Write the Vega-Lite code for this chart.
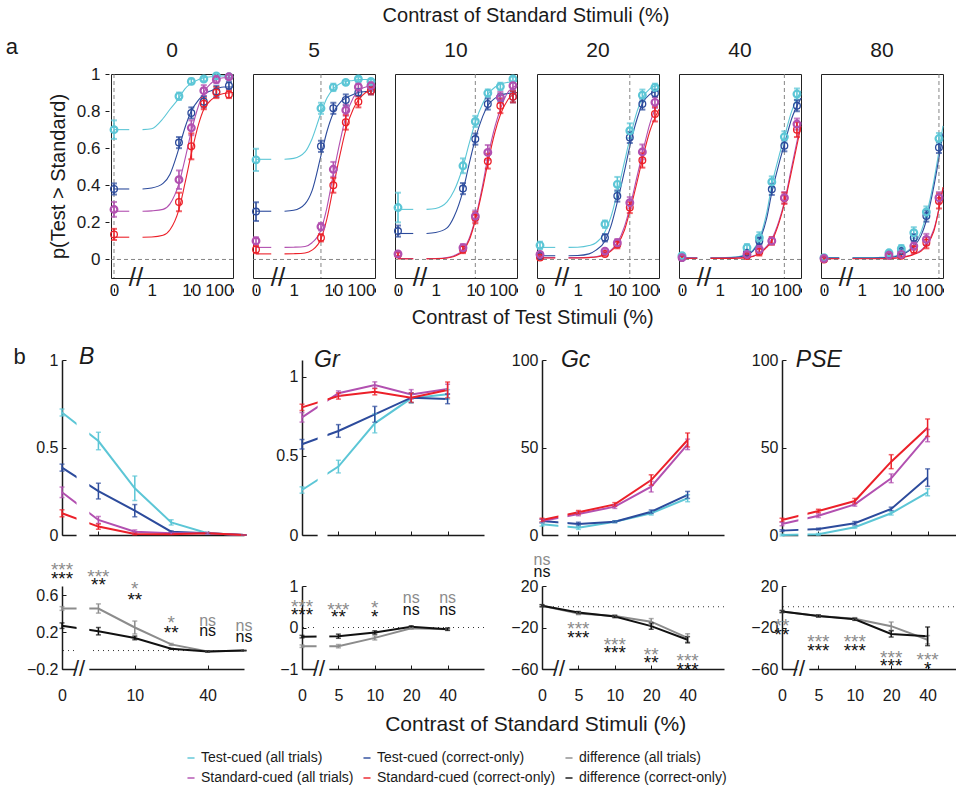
{
"$schema":"https://vega.github.io/schema/vega-lite/v6.json",
"padding":{"left":5,"top":6,"right":0,"bottom":0},
"config":{
 "font":"Liberation Sans",
 "view":{"stroke":null},
 "axis":{"grid":false,"labelOverlap":false,"labelFontSize":16,"titleFontSize":20,"titleFontWeight":"normal","labelColor":"#1a1a1a","titleColor":"#1a1a1a","domainColor":"#1a1a1a","tickColor":"#1a1a1a","labelFont":"Liberation Sans","titleFont":"Liberation Sans"},
 "title":{"fontWeight":"normal","color":"#1a1a1a","font":"Liberation Sans"}
},
"columns":1,
"align":"none",
"spacing":17,
"concat":[
{
 "title":{"text":"a","anchor":"start","fontSize":22,"dy":57,"dx":0},
 "spacing":36,
 "hconcat":[
 {"width":1,"height":1,"data":{"values":[{"z":0}]},"mark":{"type":"point","opacity":0},"encoding":{}},
 {
 "data":{"name":"A"},
 "title":{"text":"Contrast of Test Stimuli (%)","orient":"bottom","anchor":"middle","fontSize":20,"dx":35,"offset":10},
 "facet":{"column":{"field":"s","type":"ordinal","title":"Contrast of Standard Stimuli (%)","header":{"titleFontSize":20,"titleFontWeight":"normal","labelFontSize":21,"titlePadding":4,"labelPadding":6,"titleColor":"#1a1a1a","labelColor":"#1a1a1a"}}},
 "spacing":9,
 "spec":{
  "width":122,"height":204,
  "view":{"stroke":"#222","strokeWidth":1},
  "layer":[
   {"transform":[{"filter":"isValid(datum.n)"}],
    "mark":{"type":"line","interpolate":"monotone","strokeWidth":1.1},
    "encoding":{
     "x":{"field":"c","type":"quantitative","title":null,"scale":{"type":"symlog","constant":0.145,"domain":[-0.026,100],"nice":false,"zero":false},"axis":{"values":[0,1,10,100],"format":"d","title":null,"domain":false,"labelFontSize":17,"tickSize":-4,"labelPadding":-6,"labelFlush":2}},
     "y":{"field":"p","type":"quantitative","title":"p(Test > Standard)","scale":{"domain":[-0.1,1],"nice":false,"zero":false},"axis":{"values":[0,0.2,0.4,0.6,0.8,1],"format":"~g","title":"p(Test > Standard)","domain":false,"labelFontSize":17,"titleFontSize":20,"tickSize":-4,"labelPadding":9,"titlePadding":8}},
     "color":{"field":"g","type":"nominal","title":null,"scale":{"domain":["TA","TC","DA","SA","SC","DC"],"range":["#5cc6d6","#2c4b9c","#8c8c8c","#b250b0","#ec2029","#111111"]},"legend":{"orient":"none","legendX":176,"legendY":677,"direction":"horizontal","columns":3,"symbolType":"stroke","symbolSize":50,"symbolStrokeWidth":2,"labelFontSize":14,"labelFont":"Liberation Sans","labelColor":"#1a1a1a","columnPadding":5,"rowPadding":6,"labelOffset":3,"labelLimit":300,"labelExpr":"{'TA':'Test-cued (all trials)','TC':'Test-cued (correct-only)','DA':'difference (all trials)','SA':'Standard-cued (all trials)','SC':'Standard-cued (correct-only)','DC':'difference (correct-only)'}[datum.value]"}},
     "detail":{"field":"n","type":"nominal"}}},
   {"transform":[{"filter":"isValid(datum.e) && datum.g=='TA' && datum.c==0"}],
    "mark":{"type":"rule","strokeDash":[4,3],"color":"#777","strokeWidth":0.9},
    "encoding":{"y":{"datum":0,"type":"quantitative"}}},
   {"transform":[{"filter":"isValid(datum.e) && datum.g=='TA' && datum.c==0"}],
    "mark":{"type":"rule","strokeDash":[4,3],"color":"#777","strokeWidth":0.9},
    "encoding":{"x":{"field":"s","type":"quantitative","title":null}}},
   {"transform":[{"filter":"isValid(datum.e)"}],
    "mark":{"type":"errorbar","ticks":{"size":6,"thickness":2},"thickness":1.6},
    "encoding":{"x":{"field":"c","type":"quantitative","title":null},"y":{"field":"p","type":"quantitative","title":"p(Test > Standard)"},"yError":{"field":"e"},
     "color":{"field":"g","type":"nominal","title":null,"scale":{"domain":["TA","TC","DA","SA","SC","DC"],"range":["#5cc6d6","#2c4b9c","#8c8c8c","#b250b0","#ec2029","#111111"]},"legend":{"orient":"none","legendX":176,"legendY":677,"direction":"horizontal","columns":3,"symbolType":"stroke","symbolSize":50,"symbolStrokeWidth":2,"labelFontSize":14,"labelFont":"Liberation Sans","labelColor":"#1a1a1a","columnPadding":5,"rowPadding":6,"labelOffset":3,"labelLimit":300,"labelExpr":"{'TA':'Test-cued (all trials)','TC':'Test-cued (correct-only)','DA':'difference (all trials)','SA':'Standard-cued (all trials)','SC':'Standard-cued (correct-only)','DC':'difference (correct-only)'}[datum.value]"}}}},
   {"transform":[{"filter":"isValid(datum.e) && (datum.g=='TC' || datum.g=='SC')"}],
    "mark":{"type":"point","filled":false,"size":45,"strokeWidth":1.3,"opacity":1},
    "encoding":{"x":{"field":"c","type":"quantitative","title":null},"y":{"field":"p","type":"quantitative","title":"p(Test > Standard)"},
     "color":{"field":"g","type":"nominal","title":null,"scale":{"domain":["TA","TC","DA","SA","SC","DC"],"range":["#5cc6d6","#2c4b9c","#8c8c8c","#b250b0","#ec2029","#111111"]},"legend":{"orient":"none","legendX":176,"legendY":677,"direction":"horizontal","columns":3,"symbolType":"stroke","symbolSize":50,"symbolStrokeWidth":2,"labelFontSize":14,"labelFont":"Liberation Sans","labelColor":"#1a1a1a","columnPadding":5,"rowPadding":6,"labelOffset":3,"labelLimit":300,"labelExpr":"{'TA':'Test-cued (all trials)','TC':'Test-cued (correct-only)','DA':'difference (all trials)','SA':'Standard-cued (all trials)','SC':'Standard-cued (correct-only)','DC':'difference (correct-only)'}[datum.value]"}}}},
   {"transform":[{"filter":"isValid(datum.e) && (datum.g=='TA' || datum.g=='SA')"}],
    "mark":{"type":"point","filled":false,"size":45,"strokeWidth":2.2,"opacity":1},
    "encoding":{"x":{"field":"c","type":"quantitative","title":null},"y":{"field":"p","type":"quantitative","title":"p(Test > Standard)"},
     "color":{"field":"g","type":"nominal","title":null,"scale":{"domain":["TA","TC","DA","SA","SC","DC"],"range":["#5cc6d6","#2c4b9c","#8c8c8c","#b250b0","#ec2029","#111111"]},"legend":{"orient":"none","legendX":176,"legendY":677,"direction":"horizontal","columns":3,"symbolType":"stroke","symbolSize":50,"symbolStrokeWidth":2,"labelFontSize":14,"labelFont":"Liberation Sans","labelColor":"#1a1a1a","columnPadding":5,"rowPadding":6,"labelOffset":3,"labelLimit":300,"labelExpr":"{'TA':'Test-cued (all trials)','TC':'Test-cued (correct-only)','DA':'difference (all trials)','SA':'Standard-cued (all trials)','SC':'Standard-cued (correct-only)','DC':'difference (correct-only)'}[datum.value]"}}}},
   {"transform":[{"filter":"isValid(datum.e) && datum.g=='TA' && datum.c==0"}],
    "mark":{"type":"text","text":"//","fontSize":26,"color":"#222","baseline":"middle","align":"center"},
    "encoding":{"x":{"datum":0.34,"type":"quantitative"},"y":{"datum":-0.1,"type":"quantitative"}}}
  ]
 }
 }]
},
{
 "spacing":0,
 "hconcat":[
 {"width":1,"height":1,"data":{"values":[{"z":0}]},"mark":{"type":"point","opacity":0},"encoding":{}},
 {
 "title":{"text":"Contrast of Standard Stimuli (%)","orient":"bottom","anchor":"middle","fontSize":21,"dx":47,"offset":11},
 "columns":4,
 "spacing":{"row":51,"column":58},
 "bounds":"flush",
 "concat":[
   {"width":182,"height":175,"data":{"name":"T"},
    "transform":[{"filter":"datum.m=='B'"},{"calculate":"indexof([0,5,10,20,40,80], datum.s)","as":"i"}],
    "layer":[
     {"mark":{"type":"line","strokeWidth":2},
      "encoding":{"x":{"field":"i","type":"quantitative","scale":{"domain":[0,5],"nice":false,"zero":false},"axis":{"values":[1,2,3,4],"labels":false,"title":null,"tickSize":-4,"domainWidth":1.5}},
       "y":{"field":"v","type":"quantitative","title":"b","scale":{"domain":[0,1],"nice":false},"axis":{"values":[0,0.5,1],"format":"~g","title":"b","titleAngle":0,"titleX":-43,"titleY":-4,"titleAlign":"center","titleBaseline":"middle","titleFontSize":22,"tickSize":-4,"labelPadding":8,"domainWidth":1.5}},
       "color":{"field":"g","type":"nominal","title":null,"scale":{"domain":["TA","TC","DA","SA","SC","DC"],"range":["#5cc6d6","#2c4b9c","#8c8c8c","#b250b0","#ec2029","#111111"]},"legend":{"orient":"none","legendX":176,"legendY":677,"direction":"horizontal","columns":3,"symbolType":"stroke","symbolSize":50,"symbolStrokeWidth":2,"labelFontSize":14,"labelFont":"Liberation Sans","labelColor":"#1a1a1a","columnPadding":5,"rowPadding":6,"labelOffset":3,"labelLimit":300,"labelExpr":"{'TA':'Test-cued (all trials)','TC':'Test-cued (correct-only)','DA':'difference (all trials)','SA':'Standard-cued (all trials)','SC':'Standard-cued (correct-only)','DC':'difference (correct-only)'}[datum.value]"}}}},
     {"mark":{"type":"errorbar","ticks":{"size":5,"thickness":1.5},"thickness":1.5},
      "encoding":{"x":{"field":"i","type":"quantitative"},"y":{"field":"v","type":"quantitative","title":"b"},"yError":{"field":"e"},
       "color":{"field":"g","type":"nominal","title":null,"scale":{"domain":["TA","TC","DA","SA","SC","DC"],"range":["#5cc6d6","#2c4b9c","#8c8c8c","#b250b0","#ec2029","#111111"]},"legend":{"orient":"none","legendX":176,"legendY":677,"direction":"horizontal","columns":3,"symbolType":"stroke","symbolSize":50,"symbolStrokeWidth":2,"labelFontSize":14,"labelFont":"Liberation Sans","labelColor":"#1a1a1a","columnPadding":5,"rowPadding":6,"labelOffset":3,"labelLimit":300,"labelExpr":"{'TA':'Test-cued (all trials)','TC':'Test-cued (correct-only)','DA':'difference (all trials)','SA':'Standard-cued (all trials)','SC':'Standard-cued (correct-only)','DC':'difference (correct-only)'}[datum.value]"}}}},
     {"transform":[{"filter":"datum.g=='TA' && datum.s==0"}],"mark":{"type":"rect","color":"white"},
      "encoding":{"x":{"datum":0.4,"type":"quantitative"},"x2":{"datum":0.75},"y":{"datum":-0.03,"type":"quantitative"},"y2":{"datum":1}}},
     {"transform":[{"filter":"datum.g=='TA' && datum.s==0"}],"mark":{"type":"text","text":"B","fontSize":23,"fontStyle":"italic","align":"left","baseline":"middle","color":"#1a1a1a"},
      "encoding":{"x":{"datum":0.47,"type":"quantitative"},"y":{"datum":1.02,"type":"quantitative"}}}
    ]},
   {"width":182,"height":175,"data":{"name":"T"},
    "transform":[{"filter":"datum.m=='Gr'"},{"calculate":"indexof([0,5,10,20,40,80], datum.s)","as":"i"}],
    "layer":[
     {"mark":{"type":"line","strokeWidth":2},
      "encoding":{"x":{"field":"i","type":"quantitative","scale":{"domain":[0,5],"nice":false,"zero":false},"axis":{"values":[1,2,3,4],"labels":false,"title":null,"tickSize":-4,"domainWidth":1.5}},
       "y":{"field":"v","type":"quantitative","scale":{"domain":[0,1.105],"nice":false},"axis":{"values":[0,0.5,1],"format":"~g","title":null,"tickSize":-4,"labelPadding":8,"domainWidth":1.5}},
       "color":{"field":"g","type":"nominal","title":null,"scale":{"domain":["TA","TC","DA","SA","SC","DC"],"range":["#5cc6d6","#2c4b9c","#8c8c8c","#b250b0","#ec2029","#111111"]},"legend":{"orient":"none","legendX":176,"legendY":677,"direction":"horizontal","columns":3,"symbolType":"stroke","symbolSize":50,"symbolStrokeWidth":2,"labelFontSize":14,"labelFont":"Liberation Sans","labelColor":"#1a1a1a","columnPadding":5,"rowPadding":6,"labelOffset":3,"labelLimit":300,"labelExpr":"{'TA':'Test-cued (all trials)','TC':'Test-cued (correct-only)','DA':'difference (all trials)','SA':'Standard-cued (all trials)','SC':'Standard-cued (correct-only)','DC':'difference (correct-only)'}[datum.value]"}}}},
     {"mark":{"type":"errorbar","ticks":{"size":5,"thickness":1.5},"thickness":1.5},
      "encoding":{"x":{"field":"i","type":"quantitative"},"y":{"field":"v","type":"quantitative"},"yError":{"field":"e"},
       "color":{"field":"g","type":"nominal","title":null,"scale":{"domain":["TA","TC","DA","SA","SC","DC"],"range":["#5cc6d6","#2c4b9c","#8c8c8c","#b250b0","#ec2029","#111111"]},"legend":{"orient":"none","legendX":176,"legendY":677,"direction":"horizontal","columns":3,"symbolType":"stroke","symbolSize":50,"symbolStrokeWidth":2,"labelFontSize":14,"labelFont":"Liberation Sans","labelColor":"#1a1a1a","columnPadding":5,"rowPadding":6,"labelOffset":3,"labelLimit":300,"labelExpr":"{'TA':'Test-cued (all trials)','TC':'Test-cued (correct-only)','DA':'difference (all trials)','SA':'Standard-cued (all trials)','SC':'Standard-cued (correct-only)','DC':'difference (correct-only)'}[datum.value]"}}}},
     {"transform":[{"filter":"datum.g=='TA' && datum.s==0"}],"mark":{"type":"rect","color":"white"},
      "encoding":{"x":{"datum":0.43,"type":"quantitative"},"x2":{"datum":0.7},"y":{"datum":-0.03,"type":"quantitative"},"y2":{"datum":1.1}}},
     {"transform":[{"filter":"datum.g=='TA' && datum.s==0"}],"mark":{"type":"text","text":"Gr","fontSize":23,"fontStyle":"italic","align":"left","baseline":"middle","color":"#1a1a1a"},
      "encoding":{"x":{"datum":0.33,"type":"quantitative"},"y":{"datum":1.105,"type":"quantitative"}}}
    ]},
   {"width":182,"height":175,"data":{"name":"T"},
    "transform":[{"filter":"datum.m=='Gc'"},{"calculate":"indexof([0,5,10,20,40,80], datum.s)","as":"i"}],
    "layer":[
     {"mark":{"type":"line","strokeWidth":2},
      "encoding":{"x":{"field":"i","type":"quantitative","scale":{"domain":[0,5],"nice":false,"zero":false},"axis":{"values":[1,2,3,4],"labels":false,"title":null,"tickSize":-4,"domainWidth":1.5}},
       "y":{"field":"v","type":"quantitative","scale":{"domain":[0,100],"nice":false},"axis":{"values":[0,50,100],"format":"d","title":null,"tickSize":-4,"labelPadding":8,"domainWidth":1.5}},
       "color":{"field":"g","type":"nominal","title":null,"scale":{"domain":["TA","TC","DA","SA","SC","DC"],"range":["#5cc6d6","#2c4b9c","#8c8c8c","#b250b0","#ec2029","#111111"]},"legend":{"orient":"none","legendX":176,"legendY":677,"direction":"horizontal","columns":3,"symbolType":"stroke","symbolSize":50,"symbolStrokeWidth":2,"labelFontSize":14,"labelFont":"Liberation Sans","labelColor":"#1a1a1a","columnPadding":5,"rowPadding":6,"labelOffset":3,"labelLimit":300,"labelExpr":"{'TA':'Test-cued (all trials)','TC':'Test-cued (correct-only)','DA':'difference (all trials)','SA':'Standard-cued (all trials)','SC':'Standard-cued (correct-only)','DC':'difference (correct-only)'}[datum.value]"}}}},
     {"mark":{"type":"errorbar","ticks":{"size":5,"thickness":1.5},"thickness":1.5},
      "encoding":{"x":{"field":"i","type":"quantitative"},"y":{"field":"v","type":"quantitative"},"yError":{"field":"e"},
       "color":{"field":"g","type":"nominal","title":null,"scale":{"domain":["TA","TC","DA","SA","SC","DC"],"range":["#5cc6d6","#2c4b9c","#8c8c8c","#b250b0","#ec2029","#111111"]},"legend":{"orient":"none","legendX":176,"legendY":677,"direction":"horizontal","columns":3,"symbolType":"stroke","symbolSize":50,"symbolStrokeWidth":2,"labelFontSize":14,"labelFont":"Liberation Sans","labelColor":"#1a1a1a","columnPadding":5,"rowPadding":6,"labelOffset":3,"labelLimit":300,"labelExpr":"{'TA':'Test-cued (all trials)','TC':'Test-cued (correct-only)','DA':'difference (all trials)','SA':'Standard-cued (all trials)','SC':'Standard-cued (correct-only)','DC':'difference (correct-only)'}[datum.value]"}}}},
     {"transform":[{"filter":"datum.g=='TA' && datum.s==0"}],"mark":{"type":"rect","color":"white"},
      "encoding":{"x":{"datum":0.45,"type":"quantitative"},"x2":{"datum":0.7},"y":{"datum":-3,"type":"quantitative"},"y2":{"datum":80}}},
     {"transform":[{"filter":"datum.g=='TA' && datum.s==0"}],"mark":{"type":"text","text":"Gc","fontSize":23,"fontStyle":"italic","align":"left","baseline":"middle","color":"#1a1a1a"},
      "encoding":{"x":{"datum":0.52,"type":"quantitative"},"y":{"datum":100,"type":"quantitative"}}}
    ]},
   {"width":182,"height":175,"data":{"name":"T"},
    "transform":[{"filter":"datum.m=='PSE'"},{"calculate":"indexof([0,5,10,20,40,80], datum.s)","as":"i"}],
    "layer":[
     {"mark":{"type":"line","strokeWidth":2},
      "encoding":{"x":{"field":"i","type":"quantitative","scale":{"domain":[0,5],"nice":false,"zero":false},"axis":{"values":[1,2,3,4],"labels":false,"title":null,"tickSize":-4,"domainWidth":1.5}},
       "y":{"field":"v","type":"quantitative","scale":{"domain":[0,100],"nice":false},"axis":{"values":[0,50,100],"format":"d","title":null,"tickSize":-4,"labelPadding":8,"domainWidth":1.5}},
       "color":{"field":"g","type":"nominal","title":null,"scale":{"domain":["TA","TC","DA","SA","SC","DC"],"range":["#5cc6d6","#2c4b9c","#8c8c8c","#b250b0","#ec2029","#111111"]},"legend":{"orient":"none","legendX":176,"legendY":677,"direction":"horizontal","columns":3,"symbolType":"stroke","symbolSize":50,"symbolStrokeWidth":2,"labelFontSize":14,"labelFont":"Liberation Sans","labelColor":"#1a1a1a","columnPadding":5,"rowPadding":6,"labelOffset":3,"labelLimit":300,"labelExpr":"{'TA':'Test-cued (all trials)','TC':'Test-cued (correct-only)','DA':'difference (all trials)','SA':'Standard-cued (all trials)','SC':'Standard-cued (correct-only)','DC':'difference (correct-only)'}[datum.value]"}}}},
     {"mark":{"type":"errorbar","ticks":{"size":5,"thickness":1.5},"thickness":1.5},
      "encoding":{"x":{"field":"i","type":"quantitative"},"y":{"field":"v","type":"quantitative"},"yError":{"field":"e"},
       "color":{"field":"g","type":"nominal","title":null,"scale":{"domain":["TA","TC","DA","SA","SC","DC"],"range":["#5cc6d6","#2c4b9c","#8c8c8c","#b250b0","#ec2029","#111111"]},"legend":{"orient":"none","legendX":176,"legendY":677,"direction":"horizontal","columns":3,"symbolType":"stroke","symbolSize":50,"symbolStrokeWidth":2,"labelFontSize":14,"labelFont":"Liberation Sans","labelColor":"#1a1a1a","columnPadding":5,"rowPadding":6,"labelOffset":3,"labelLimit":300,"labelExpr":"{'TA':'Test-cued (all trials)','TC':'Test-cued (correct-only)','DA':'difference (all trials)','SA':'Standard-cued (all trials)','SC':'Standard-cued (correct-only)','DC':'difference (correct-only)'}[datum.value]"}}}},
     {"transform":[{"filter":"datum.g=='TA' && datum.s==0"}],"mark":{"type":"rect","color":"white"},
      "encoding":{"x":{"datum":0.45,"type":"quantitative"},"x2":{"datum":0.7},"y":{"datum":-3,"type":"quantitative"},"y2":{"datum":80}}},
     {"transform":[{"filter":"datum.g=='TA' && datum.s==0"}],"mark":{"type":"text","text":"PSE","fontSize":23,"fontStyle":"italic","align":"left","baseline":"middle","color":"#1a1a1a"},
      "encoding":{"x":{"datum":0.38,"type":"quantitative"},"y":{"datum":100,"type":"quantitative"}}}
    ]},
   {"width":182,"height":83,"data":{"name":"D"},
    "transform":[{"filter":"datum.m=='B'"},{"calculate":"indexof([0,5,10,20,40,80], datum.s)","as":"i"}],
    "layer":[
     {"transform":[{"filter":"datum.g=='DA' && datum.s==0"}],"mark":{"type":"rule","strokeDash":[1,4],"color":"#333"},"encoding":{"y":{"datum":0,"type":"quantitative"}}},
     {"mark":{"type":"line","strokeWidth":2},
      "encoding":{"x":{"field":"i","type":"quantitative","scale":{"domain":[0,5],"nice":false,"zero":false},"axis":{"values":[0,1,2,3,4,5],"labelExpr":"['0','5','10','20','40','80'][datum.value]","labelFlush":false,"labelOverlap":"greedy","labelSeparation":-60,"title":null,"tickSize":-4,"labelPadding":22,"domainWidth":1.5}},
       "y":{"field":"v","type":"quantitative","scale":{"domain":[-0.2,0.7],"nice":false,"zero":false},"axis":{"values":[-0.2,0,0.2,0.4,0.6],"format":"~g","title":null,"tickSize":-4,"labelPadding":8,"domainWidth":1.5}},
       "color":{"field":"g","type":"nominal","title":null,"scale":{"domain":["TA","TC","DA","SA","SC","DC"],"range":["#5cc6d6","#2c4b9c","#8c8c8c","#b250b0","#ec2029","#111111"]},"legend":{"orient":"none","legendX":176,"legendY":677,"direction":"horizontal","columns":3,"symbolType":"stroke","symbolSize":50,"symbolStrokeWidth":2,"labelFontSize":14,"labelFont":"Liberation Sans","labelColor":"#1a1a1a","columnPadding":5,"rowPadding":6,"labelOffset":3,"labelLimit":300,"labelExpr":"{'TA':'Test-cued (all trials)','TC':'Test-cued (correct-only)','DA':'difference (all trials)','SA':'Standard-cued (all trials)','SC':'Standard-cued (correct-only)','DC':'difference (correct-only)'}[datum.value]"}}}},
     {"mark":{"type":"errorbar","ticks":{"size":5,"thickness":1.5},"thickness":1.5},
      "encoding":{"x":{"field":"i","type":"quantitative"},"y":{"field":"v","type":"quantitative"},"yError":{"field":"e"},
       "color":{"field":"g","type":"nominal","title":null,"scale":{"domain":["TA","TC","DA","SA","SC","DC"],"range":["#5cc6d6","#2c4b9c","#8c8c8c","#b250b0","#ec2029","#111111"]},"legend":{"orient":"none","legendX":176,"legendY":677,"direction":"horizontal","columns":3,"symbolType":"stroke","symbolSize":50,"symbolStrokeWidth":2,"labelFontSize":14,"labelFont":"Liberation Sans","labelColor":"#1a1a1a","columnPadding":5,"rowPadding":6,"labelOffset":3,"labelLimit":300,"labelExpr":"{'TA':'Test-cued (all trials)','TC':'Test-cued (correct-only)','DA':'difference (all trials)','SA':'Standard-cued (all trials)','SC':'Standard-cued (correct-only)','DC':'difference (correct-only)'}[datum.value]"}}}},
     {"transform":[{"filter":"datum.g=='DA' && datum.s==0"}],"mark":{"type":"rect","color":"white"},
      "encoding":{"x":{"datum":0.4,"type":"quantitative"},"x2":{"datum":0.75},"y":{"datum":-0.24,"type":"quantitative"},"y2":{"datum":0.7}}},
     {"transform":[{"filter":"datum.g=='DA' && datum.s==0"}],"mark":{"type":"text","text":"//","fontSize":22,"color":"#222","baseline":"middle","align":"center"},
      "encoding":{"x":{"datum":0.47,"type":"quantitative"},"y":{"datum":-0.2,"type":"quantitative"}}},
     {"data":{"name":"S"},"transform":[{"filter":"datum.m=='B' && datum.t=='ns'"},{"calculate":"indexof([0,5,10,20,40,80], datum.s)","as":"i"}],
      "mark":{"type":"text","fontSize":16,"baseline":"middle","align":"center"},
      "encoding":{"x":{"field":"i","type":"quantitative"},"y":{"field":"v","type":"quantitative"},"text":{"field":"t"},
       "color":{"field":"g","type":"nominal","title":null,"scale":{"domain":["TA","TC","DA","SA","SC","DC"],"range":["#5cc6d6","#2c4b9c","#8c8c8c","#b250b0","#ec2029","#111111"]},"legend":{"orient":"none","legendX":176,"legendY":677,"direction":"horizontal","columns":3,"symbolType":"stroke","symbolSize":50,"symbolStrokeWidth":2,"labelFontSize":14,"labelFont":"Liberation Sans","labelColor":"#1a1a1a","columnPadding":5,"rowPadding":6,"labelOffset":3,"labelLimit":300,"labelExpr":"{'TA':'Test-cued (all trials)','TC':'Test-cued (correct-only)','DA':'difference (all trials)','SA':'Standard-cued (all trials)','SC':'Standard-cued (correct-only)','DC':'difference (correct-only)'}[datum.value]"}}}},
     {"data":{"name":"S"},"transform":[{"filter":"datum.m=='B' && datum.t!='ns'"},{"calculate":"indexof([0,5,10,20,40,80], datum.s)","as":"i"}],
      "mark":{"type":"text","fontSize":19,"baseline":"middle","align":"center","dy":5},
      "encoding":{"x":{"field":"i","type":"quantitative"},"y":{"field":"v","type":"quantitative"},"text":{"field":"t"},
       "color":{"field":"g","type":"nominal","title":null,"scale":{"domain":["TA","TC","DA","SA","SC","DC"],"range":["#5cc6d6","#2c4b9c","#8c8c8c","#b250b0","#ec2029","#111111"]},"legend":{"orient":"none","legendX":176,"legendY":677,"direction":"horizontal","columns":3,"symbolType":"stroke","symbolSize":50,"symbolStrokeWidth":2,"labelFontSize":14,"labelFont":"Liberation Sans","labelColor":"#1a1a1a","columnPadding":5,"rowPadding":6,"labelOffset":3,"labelLimit":300,"labelExpr":"{'TA':'Test-cued (all trials)','TC':'Test-cued (correct-only)','DA':'difference (all trials)','SA':'Standard-cued (all trials)','SC':'Standard-cued (correct-only)','DC':'difference (correct-only)'}[datum.value]"}}}}
    ]},
   {"width":182,"height":83,"data":{"name":"D"},
    "transform":[{"filter":"datum.m=='Gr'"},{"calculate":"indexof([0,5,10,20,40,80], datum.s)","as":"i"}],
    "layer":[
     {"transform":[{"filter":"datum.g=='DA' && datum.s==0"}],"mark":{"type":"rule","strokeDash":[1,4],"color":"#333"},"encoding":{"y":{"datum":0,"type":"quantitative"}}},
     {"mark":{"type":"line","strokeWidth":2},
      "encoding":{"x":{"field":"i","type":"quantitative","scale":{"domain":[0,5],"nice":false,"zero":false},"axis":{"values":[0,1,2,3,4],"labelExpr":"['0','5','10','20','40','80'][datum.value]","labelFlush":false,"labelOverlap":false,"title":null,"tickSize":-4,"labelPadding":22,"domainWidth":1.5}},
       "y":{"field":"v","type":"quantitative","scale":{"domain":[-1,1],"nice":false,"zero":false},"axis":{"values":[-1,0,1],"format":"~g","title":null,"tickSize":-4,"labelPadding":8,"domainWidth":1.5}},
       "color":{"field":"g","type":"nominal","title":null,"scale":{"domain":["TA","TC","DA","SA","SC","DC"],"range":["#5cc6d6","#2c4b9c","#8c8c8c","#b250b0","#ec2029","#111111"]},"legend":{"orient":"none","legendX":176,"legendY":677,"direction":"horizontal","columns":3,"symbolType":"stroke","symbolSize":50,"symbolStrokeWidth":2,"labelFontSize":14,"labelFont":"Liberation Sans","labelColor":"#1a1a1a","columnPadding":5,"rowPadding":6,"labelOffset":3,"labelLimit":300,"labelExpr":"{'TA':'Test-cued (all trials)','TC':'Test-cued (correct-only)','DA':'difference (all trials)','SA':'Standard-cued (all trials)','SC':'Standard-cued (correct-only)','DC':'difference (correct-only)'}[datum.value]"}}}},
     {"mark":{"type":"errorbar","ticks":{"size":5,"thickness":1.5},"thickness":1.5},
      "encoding":{"x":{"field":"i","type":"quantitative"},"y":{"field":"v","type":"quantitative"},"yError":{"field":"e"},
       "color":{"field":"g","type":"nominal","title":null,"scale":{"domain":["TA","TC","DA","SA","SC","DC"],"range":["#5cc6d6","#2c4b9c","#8c8c8c","#b250b0","#ec2029","#111111"]},"legend":{"orient":"none","legendX":176,"legendY":677,"direction":"horizontal","columns":3,"symbolType":"stroke","symbolSize":50,"symbolStrokeWidth":2,"labelFontSize":14,"labelFont":"Liberation Sans","labelColor":"#1a1a1a","columnPadding":5,"rowPadding":6,"labelOffset":3,"labelLimit":300,"labelExpr":"{'TA':'Test-cued (all trials)','TC':'Test-cued (correct-only)','DA':'difference (all trials)','SA':'Standard-cued (all trials)','SC':'Standard-cued (correct-only)','DC':'difference (correct-only)'}[datum.value]"}}}},
     {"transform":[{"filter":"datum.g=='DA' && datum.s==0"}],"mark":{"type":"rect","color":"white"},
      "encoding":{"x":{"datum":0.4,"type":"quantitative"},"x2":{"datum":0.75},"y":{"datum":-1.08,"type":"quantitative"},"y2":{"datum":0.3}}},
     {"transform":[{"filter":"datum.g=='DA' && datum.s==0"}],"mark":{"type":"text","text":"//","fontSize":22,"color":"#222","baseline":"middle","align":"center"},
      "encoding":{"x":{"datum":0.47,"type":"quantitative"},"y":{"datum":-1,"type":"quantitative"}}},
     {"data":{"name":"S"},"transform":[{"filter":"datum.m=='Gr' && datum.t=='ns'"},{"calculate":"indexof([0,5,10,20,40,80], datum.s)","as":"i"}],
      "mark":{"type":"text","fontSize":16,"baseline":"middle","align":"center"},
      "encoding":{"x":{"field":"i","type":"quantitative"},"y":{"field":"v","type":"quantitative"},"text":{"field":"t"},
       "color":{"field":"g","type":"nominal","title":null,"scale":{"domain":["TA","TC","DA","SA","SC","DC"],"range":["#5cc6d6","#2c4b9c","#8c8c8c","#b250b0","#ec2029","#111111"]},"legend":{"orient":"none","legendX":176,"legendY":677,"direction":"horizontal","columns":3,"symbolType":"stroke","symbolSize":50,"symbolStrokeWidth":2,"labelFontSize":14,"labelFont":"Liberation Sans","labelColor":"#1a1a1a","columnPadding":5,"rowPadding":6,"labelOffset":3,"labelLimit":300,"labelExpr":"{'TA':'Test-cued (all trials)','TC':'Test-cued (correct-only)','DA':'difference (all trials)','SA':'Standard-cued (all trials)','SC':'Standard-cued (correct-only)','DC':'difference (correct-only)'}[datum.value]"}}}},
     {"data":{"name":"S"},"transform":[{"filter":"datum.m=='Gr' && datum.t!='ns'"},{"calculate":"indexof([0,5,10,20,40,80], datum.s)","as":"i"}],
      "mark":{"type":"text","fontSize":19,"baseline":"middle","align":"center","dy":5},
      "encoding":{"x":{"field":"i","type":"quantitative"},"y":{"field":"v","type":"quantitative"},"text":{"field":"t"},
       "color":{"field":"g","type":"nominal","title":null,"scale":{"domain":["TA","TC","DA","SA","SC","DC"],"range":["#5cc6d6","#2c4b9c","#8c8c8c","#b250b0","#ec2029","#111111"]},"legend":{"orient":"none","legendX":176,"legendY":677,"direction":"horizontal","columns":3,"symbolType":"stroke","symbolSize":50,"symbolStrokeWidth":2,"labelFontSize":14,"labelFont":"Liberation Sans","labelColor":"#1a1a1a","columnPadding":5,"rowPadding":6,"labelOffset":3,"labelLimit":300,"labelExpr":"{'TA':'Test-cued (all trials)','TC':'Test-cued (correct-only)','DA':'difference (all trials)','SA':'Standard-cued (all trials)','SC':'Standard-cued (correct-only)','DC':'difference (correct-only)'}[datum.value]"}}}}
    ]},
   {"width":182,"height":83,"data":{"name":"D"},
    "transform":[{"filter":"datum.m=='Gc'"},{"calculate":"indexof([0,5,10,20,40,80], datum.s)","as":"i"}],
    "layer":[
     {"transform":[{"filter":"datum.g=='DA' && datum.s==0"}],"mark":{"type":"rule","strokeDash":[1,4],"color":"#333"},"encoding":{"y":{"datum":0,"type":"quantitative"}}},
     {"mark":{"type":"line","strokeWidth":2},
      "encoding":{"x":{"field":"i","type":"quantitative","scale":{"domain":[0,5],"nice":false,"zero":false},"axis":{"values":[0,1,2,3,4],"labelExpr":"['0','5','10','20','40','80'][datum.value]","labelFlush":false,"labelOverlap":false,"title":null,"tickSize":-4,"labelPadding":22,"domainWidth":1.5}},
       "y":{"field":"v","type":"quantitative","scale":{"domain":[-60,20],"nice":false,"zero":false},"axis":{"values":[-60,-40,-20,0,20],"format":"d","title":null,"tickSize":-4,"labelPadding":8,"domainWidth":1.5}},
       "color":{"field":"g","type":"nominal","title":null,"scale":{"domain":["TA","TC","DA","SA","SC","DC"],"range":["#5cc6d6","#2c4b9c","#8c8c8c","#b250b0","#ec2029","#111111"]},"legend":{"orient":"none","legendX":176,"legendY":677,"direction":"horizontal","columns":3,"symbolType":"stroke","symbolSize":50,"symbolStrokeWidth":2,"labelFontSize":14,"labelFont":"Liberation Sans","labelColor":"#1a1a1a","columnPadding":5,"rowPadding":6,"labelOffset":3,"labelLimit":300,"labelExpr":"{'TA':'Test-cued (all trials)','TC':'Test-cued (correct-only)','DA':'difference (all trials)','SA':'Standard-cued (all trials)','SC':'Standard-cued (correct-only)','DC':'difference (correct-only)'}[datum.value]"}}}},
     {"mark":{"type":"errorbar","ticks":{"size":5,"thickness":1.5},"thickness":1.5},
      "encoding":{"x":{"field":"i","type":"quantitative"},"y":{"field":"v","type":"quantitative"},"yError":{"field":"e"},
       "color":{"field":"g","type":"nominal","title":null,"scale":{"domain":["TA","TC","DA","SA","SC","DC"],"range":["#5cc6d6","#2c4b9c","#8c8c8c","#b250b0","#ec2029","#111111"]},"legend":{"orient":"none","legendX":176,"legendY":677,"direction":"horizontal","columns":3,"symbolType":"stroke","symbolSize":50,"symbolStrokeWidth":2,"labelFontSize":14,"labelFont":"Liberation Sans","labelColor":"#1a1a1a","columnPadding":5,"rowPadding":6,"labelOffset":3,"labelLimit":300,"labelExpr":"{'TA':'Test-cued (all trials)','TC':'Test-cued (correct-only)','DA':'difference (all trials)','SA':'Standard-cued (all trials)','SC':'Standard-cued (correct-only)','DC':'difference (correct-only)'}[datum.value]"}}}},
     {"transform":[{"filter":"datum.g=='DA' && datum.s==0"}],"mark":{"type":"rect","color":"white"},
      "encoding":{"x":{"datum":0.4,"type":"quantitative"},"x2":{"datum":0.75},"y":{"datum":-63,"type":"quantitative"},"y2":{"datum":-10}}},
     {"transform":[{"filter":"datum.g=='DA' && datum.s==0"}],"mark":{"type":"text","text":"//","fontSize":22,"color":"#222","baseline":"middle","align":"center"},
      "encoding":{"x":{"datum":0.47,"type":"quantitative"},"y":{"datum":-60,"type":"quantitative"}}},
     {"data":{"name":"S"},"transform":[{"filter":"datum.m=='Gc' && datum.t=='ns'"},{"calculate":"indexof([0,5,10,20,40,80], datum.s)","as":"i"}],
      "mark":{"type":"text","fontSize":16,"baseline":"middle","align":"center"},
      "encoding":{"x":{"field":"i","type":"quantitative"},"y":{"field":"v","type":"quantitative"},"text":{"field":"t"},
       "color":{"field":"g","type":"nominal","title":null,"scale":{"domain":["TA","TC","DA","SA","SC","DC"],"range":["#5cc6d6","#2c4b9c","#8c8c8c","#b250b0","#ec2029","#111111"]},"legend":{"orient":"none","legendX":176,"legendY":677,"direction":"horizontal","columns":3,"symbolType":"stroke","symbolSize":50,"symbolStrokeWidth":2,"labelFontSize":14,"labelFont":"Liberation Sans","labelColor":"#1a1a1a","columnPadding":5,"rowPadding":6,"labelOffset":3,"labelLimit":300,"labelExpr":"{'TA':'Test-cued (all trials)','TC':'Test-cued (correct-only)','DA':'difference (all trials)','SA':'Standard-cued (all trials)','SC':'Standard-cued (correct-only)','DC':'difference (correct-only)'}[datum.value]"}}}},
     {"data":{"name":"S"},"transform":[{"filter":"datum.m=='Gc' && datum.t!='ns'"},{"calculate":"indexof([0,5,10,20,40,80], datum.s)","as":"i"}],
      "mark":{"type":"text","fontSize":19,"baseline":"middle","align":"center","dy":5},
      "encoding":{"x":{"field":"i","type":"quantitative"},"y":{"field":"v","type":"quantitative"},"text":{"field":"t"},
       "color":{"field":"g","type":"nominal","title":null,"scale":{"domain":["TA","TC","DA","SA","SC","DC"],"range":["#5cc6d6","#2c4b9c","#8c8c8c","#b250b0","#ec2029","#111111"]},"legend":{"orient":"none","legendX":176,"legendY":677,"direction":"horizontal","columns":3,"symbolType":"stroke","symbolSize":50,"symbolStrokeWidth":2,"labelFontSize":14,"labelFont":"Liberation Sans","labelColor":"#1a1a1a","columnPadding":5,"rowPadding":6,"labelOffset":3,"labelLimit":300,"labelExpr":"{'TA':'Test-cued (all trials)','TC':'Test-cued (correct-only)','DA':'difference (all trials)','SA':'Standard-cued (all trials)','SC':'Standard-cued (correct-only)','DC':'difference (correct-only)'}[datum.value]"}}}}
    ]},
   {"width":182,"height":83,"data":{"name":"D"},
    "transform":[{"filter":"datum.m=='PSE'"},{"calculate":"indexof([0,5,10,20,40,80], datum.s)","as":"i"}],
    "layer":[
     {"transform":[{"filter":"datum.g=='DA' && datum.s==0"}],"mark":{"type":"rule","strokeDash":[1,4],"color":"#333"},"encoding":{"y":{"datum":0,"type":"quantitative"}}},
     {"mark":{"type":"line","strokeWidth":2},
      "encoding":{"x":{"field":"i","type":"quantitative","scale":{"domain":[0,5],"nice":false,"zero":false},"axis":{"values":[0,1,2,3,4],"labelExpr":"['0','5','10','20','40','80'][datum.value]","labelFlush":false,"labelOverlap":false,"title":null,"tickSize":-4,"labelPadding":22,"domainWidth":1.5}},
       "y":{"field":"v","type":"quantitative","scale":{"domain":[-60,20],"nice":false,"zero":false},"axis":{"values":[-60,-40,-20,0,20],"format":"d","title":null,"tickSize":-4,"labelPadding":8,"domainWidth":1.5}},
       "color":{"field":"g","type":"nominal","title":null,"scale":{"domain":["TA","TC","DA","SA","SC","DC"],"range":["#5cc6d6","#2c4b9c","#8c8c8c","#b250b0","#ec2029","#111111"]},"legend":{"orient":"none","legendX":176,"legendY":677,"direction":"horizontal","columns":3,"symbolType":"stroke","symbolSize":50,"symbolStrokeWidth":2,"labelFontSize":14,"labelFont":"Liberation Sans","labelColor":"#1a1a1a","columnPadding":5,"rowPadding":6,"labelOffset":3,"labelLimit":300,"labelExpr":"{'TA':'Test-cued (all trials)','TC':'Test-cued (correct-only)','DA':'difference (all trials)','SA':'Standard-cued (all trials)','SC':'Standard-cued (correct-only)','DC':'difference (correct-only)'}[datum.value]"}}}},
     {"mark":{"type":"errorbar","ticks":{"size":5,"thickness":1.5},"thickness":1.5},
      "encoding":{"x":{"field":"i","type":"quantitative"},"y":{"field":"v","type":"quantitative"},"yError":{"field":"e"},
       "color":{"field":"g","type":"nominal","title":null,"scale":{"domain":["TA","TC","DA","SA","SC","DC"],"range":["#5cc6d6","#2c4b9c","#8c8c8c","#b250b0","#ec2029","#111111"]},"legend":{"orient":"none","legendX":176,"legendY":677,"direction":"horizontal","columns":3,"symbolType":"stroke","symbolSize":50,"symbolStrokeWidth":2,"labelFontSize":14,"labelFont":"Liberation Sans","labelColor":"#1a1a1a","columnPadding":5,"rowPadding":6,"labelOffset":3,"labelLimit":300,"labelExpr":"{'TA':'Test-cued (all trials)','TC':'Test-cued (correct-only)','DA':'difference (all trials)','SA':'Standard-cued (all trials)','SC':'Standard-cued (correct-only)','DC':'difference (correct-only)'}[datum.value]"}}}},
     {"transform":[{"filter":"datum.g=='DA' && datum.s==0"}],"mark":{"type":"rect","color":"white"},
      "encoding":{"x":{"datum":0.42,"type":"quantitative"},"x2":{"datum":0.75},"y":{"datum":-63,"type":"quantitative"},"y2":{"datum":-10}}},
     {"transform":[{"filter":"datum.g=='DA' && datum.s==0"}],"mark":{"type":"text","text":"//","fontSize":22,"color":"#222","baseline":"middle","align":"center"},
      "encoding":{"x":{"datum":0.47,"type":"quantitative"},"y":{"datum":-60,"type":"quantitative"}}},
     {"data":{"name":"S"},"transform":[{"filter":"datum.m=='PSE' && datum.t=='ns'"},{"calculate":"indexof([0,5,10,20,40,80], datum.s)","as":"i"}],
      "mark":{"type":"text","fontSize":16,"baseline":"middle","align":"center"},
      "encoding":{"x":{"field":"i","type":"quantitative"},"y":{"field":"v","type":"quantitative"},"text":{"field":"t"},
       "color":{"field":"g","type":"nominal","title":null,"scale":{"domain":["TA","TC","DA","SA","SC","DC"],"range":["#5cc6d6","#2c4b9c","#8c8c8c","#b250b0","#ec2029","#111111"]},"legend":{"orient":"none","legendX":176,"legendY":677,"direction":"horizontal","columns":3,"symbolType":"stroke","symbolSize":50,"symbolStrokeWidth":2,"labelFontSize":14,"labelFont":"Liberation Sans","labelColor":"#1a1a1a","columnPadding":5,"rowPadding":6,"labelOffset":3,"labelLimit":300,"labelExpr":"{'TA':'Test-cued (all trials)','TC':'Test-cued (correct-only)','DA':'difference (all trials)','SA':'Standard-cued (all trials)','SC':'Standard-cued (correct-only)','DC':'difference (correct-only)'}[datum.value]"}}}},
     {"data":{"name":"S"},"transform":[{"filter":"datum.m=='PSE' && datum.t!='ns'"},{"calculate":"indexof([0,5,10,20,40,80], datum.s)","as":"i"}],
      "mark":{"type":"text","fontSize":19,"baseline":"middle","align":"center","dy":5},
      "encoding":{"x":{"field":"i","type":"quantitative"},"y":{"field":"v","type":"quantitative"},"text":{"field":"t"},
       "color":{"field":"g","type":"nominal","title":null,"scale":{"domain":["TA","TC","DA","SA","SC","DC"],"range":["#5cc6d6","#2c4b9c","#8c8c8c","#b250b0","#ec2029","#111111"]},"legend":{"orient":"none","legendX":176,"legendY":677,"direction":"horizontal","columns":3,"symbolType":"stroke","symbolSize":50,"symbolStrokeWidth":2,"labelFontSize":14,"labelFont":"Liberation Sans","labelColor":"#1a1a1a","columnPadding":5,"rowPadding":6,"labelOffset":3,"labelLimit":300,"labelExpr":"{'TA':'Test-cued (all trials)','TC':'Test-cued (correct-only)','DA':'difference (all trials)','SA':'Standard-cued (all trials)','SC':'Standard-cued (correct-only)','DC':'difference (correct-only)'}[datum.value]"}}}}
    ]}
 ]
 }]
}
],
"datasets":{
"A":[
{"s":0,"g":"TA","c":0,"p":0.70,"e":0.05},{"s":0,"g":"TA","c":5,"p":0.88,"e":0.02},{"s":0,"g":"TA","c":10,"p":0.96,"e":0.015},{"s":0,"g":"TA","c":20,"p":0.973,"e":0.01},{"s":0,"g":"TA","c":40,"p":0.99,"e":0.01},{"s":0,"g":"TA","c":80,"p":0.985,"e":0.01},
{"s":0,"g":"TC","c":0,"p":0.38,"e":0.03},{"s":0,"g":"TC","c":5,"p":0.63,"e":0.03},{"s":0,"g":"TC","c":10,"p":0.79,"e":0.03},{"s":0,"g":"TC","c":20,"p":0.85,"e":0.03},{"s":0,"g":"TC","c":40,"p":0.906,"e":0.03},{"s":0,"g":"TC","c":80,"p":0.937,"e":0.02},
{"s":0,"g":"SA","c":0,"p":0.27,"e":0.04},{"s":0,"g":"SA","c":5,"p":0.43,"e":0.05},{"s":0,"g":"SA","c":10,"p":0.71,"e":0.04},{"s":0,"g":"SA","c":20,"p":0.91,"e":0.03},{"s":0,"g":"SA","c":40,"p":0.97,"e":0.02},{"s":0,"g":"SA","c":80,"p":0.985,"e":0.01},
{"s":0,"g":"SC","c":0,"p":0.135,"e":0.03},{"s":0,"g":"SC","c":5,"p":0.31,"e":0.05},{"s":0,"g":"SC","c":10,"p":0.61,"e":0.07},{"s":0,"g":"SC","c":20,"p":0.84,"e":0.03},{"s":0,"g":"SC","c":40,"p":0.90,"e":0.03},{"s":0,"g":"SC","c":80,"p":0.89,"e":0.02},
{"s":5,"g":"TA","c":0,"p":0.537,"e":0.06},{"s":5,"g":"TA","c":5,"p":0.815,"e":0.03},{"s":5,"g":"TA","c":10,"p":0.928,"e":0.02},{"s":5,"g":"TA","c":20,"p":0.955,"e":0.01},{"s":5,"g":"TA","c":40,"p":0.973,"e":0.01},{"s":5,"g":"TA","c":80,"p":0.96,"e":0.01},
{"s":5,"g":"TC","c":0,"p":0.258,"e":0.05},{"s":5,"g":"TC","c":5,"p":0.61,"e":0.03},{"s":5,"g":"TC","c":10,"p":0.815,"e":0.03},{"s":5,"g":"TC","c":20,"p":0.86,"e":0.03},{"s":5,"g":"TC","c":40,"p":0.90,"e":0.02},{"s":5,"g":"TC","c":80,"p":0.91,"e":0.02},
{"s":5,"g":"SA","c":0,"p":0.10,"e":0.02},{"s":5,"g":"SA","c":5,"p":0.177,"e":0.02},{"s":5,"g":"SA","c":10,"p":0.486,"e":0.04},{"s":5,"g":"SA","c":20,"p":0.805,"e":0.03},{"s":5,"g":"SA","c":40,"p":0.93,"e":0.02},{"s":5,"g":"SA","c":80,"p":0.937,"e":0.02},
{"s":5,"g":"SC","c":0,"p":0.054,"e":0.02},{"s":5,"g":"SC","c":5,"p":0.117,"e":0.02},{"s":5,"g":"SC","c":10,"p":0.40,"e":0.04},{"s":5,"g":"SC","c":20,"p":0.74,"e":0.04},{"s":5,"g":"SC","c":40,"p":0.85,"e":0.03},{"s":5,"g":"SC","c":80,"p":0.91,"e":0.02},
{"s":10,"g":"TA","c":0,"p":0.28,"e":0.08},{"s":10,"g":"TA","c":5,"p":0.505,"e":0.04},{"s":10,"g":"TA","c":10,"p":0.744,"e":0.03},{"s":10,"g":"TA","c":20,"p":0.897,"e":0.02},{"s":10,"g":"TA","c":40,"p":0.933,"e":0.02},{"s":10,"g":"TA","c":80,"p":0.973,"e":0.01},
{"s":10,"g":"TC","c":0,"p":0.153,"e":0.03},{"s":10,"g":"TC","c":5,"p":0.382,"e":0.03},{"s":10,"g":"TC","c":10,"p":0.649,"e":0.03},{"s":10,"g":"TC","c":20,"p":0.838,"e":0.03},{"s":10,"g":"TC","c":40,"p":0.874,"e":0.02},{"s":10,"g":"TC","c":80,"p":0.877,"e":0.03},
{"s":10,"g":"SA","c":0,"p":0.03,"e":0.01},{"s":10,"g":"SA","c":5,"p":0.063,"e":0.02},{"s":10,"g":"SA","c":10,"p":0.234,"e":0.03},{"s":10,"g":"SA","c":20,"p":0.577,"e":0.04},{"s":10,"g":"SA","c":40,"p":0.874,"e":0.03},{"s":10,"g":"SA","c":80,"p":0.937,"e":0.02},
{"s":10,"g":"SC","c":0,"p":0.027,"e":0.01},{"s":10,"g":"SC","c":5,"p":0.054,"e":0.02},{"s":10,"g":"SC","c":10,"p":0.225,"e":0.03},{"s":10,"g":"SC","c":20,"p":0.53,"e":0.04},{"s":10,"g":"SC","c":40,"p":0.829,"e":0.04},{"s":10,"g":"SC","c":80,"p":0.877,"e":0.03},
{"s":20,"g":"TA","c":0,"p":0.076,"e":0.02},{"s":20,"g":"TA","c":5,"p":0.19,"e":0.02},{"s":20,"g":"TA","c":10,"p":0.405,"e":0.04},{"s":20,"g":"TA","c":20,"p":0.694,"e":0.04},{"s":20,"g":"TA","c":40,"p":0.886,"e":0.03},{"s":20,"g":"TA","c":80,"p":0.928,"e":0.02},
{"s":20,"g":"TC","c":0,"p":0.018,"e":0.01},{"s":20,"g":"TC","c":5,"p":0.117,"e":0.02},{"s":20,"g":"TC","c":10,"p":0.342,"e":0.03},{"s":20,"g":"TC","c":20,"p":0.658,"e":0.03},{"s":20,"g":"TC","c":40,"p":0.838,"e":0.03},{"s":20,"g":"TC","c":80,"p":0.896,"e":0.02},
{"s":20,"g":"SA","c":0,"p":0.027,"e":0.01},{"s":20,"g":"SA","c":5,"p":0.045,"e":0.01},{"s":20,"g":"SA","c":10,"p":0.09,"e":0.02},{"s":20,"g":"SA","c":20,"p":0.306,"e":0.03},{"s":20,"g":"SA","c":40,"p":0.58,"e":0.04},{"s":20,"g":"SA","c":80,"p":0.847,"e":0.03},
{"s":20,"g":"SC","c":0,"p":0.01,"e":0.01},{"s":20,"g":"SC","c":5,"p":0.03,"e":0.01},{"s":20,"g":"SC","c":10,"p":0.08,"e":0.02},{"s":20,"g":"SC","c":20,"p":0.28,"e":0.03},{"s":20,"g":"SC","c":40,"p":0.535,"e":0.04},{"s":20,"g":"SC","c":80,"p":0.784,"e":0.04},
{"s":40,"g":"TA","c":0,"p":0.02,"e":0.01},{"s":40,"g":"TA","c":5,"p":0.063,"e":0.02},{"s":40,"g":"TA","c":10,"p":0.117,"e":0.03},{"s":40,"g":"TA","c":20,"p":0.418,"e":0.03},{"s":40,"g":"TA","c":40,"p":0.661,"e":0.03},{"s":40,"g":"TA","c":80,"p":0.892,"e":0.03},
{"s":40,"g":"TC","c":0,"p":0.009,"e":0.01},{"s":40,"g":"TC","c":5,"p":0.036,"e":0.01},{"s":40,"g":"TC","c":10,"p":0.10,"e":0.02},{"s":40,"g":"TC","c":20,"p":0.378,"e":0.03},{"s":40,"g":"TC","c":40,"p":0.613,"e":0.03},{"s":40,"g":"TC","c":80,"p":0.829,"e":0.03},
{"s":40,"g":"SA","c":0,"p":0.01,"e":0.01},{"s":40,"g":"SA","c":5,"p":0.027,"e":0.01},{"s":40,"g":"SA","c":10,"p":0.054,"e":0.02},{"s":40,"g":"SA","c":20,"p":0.10,"e":0.02},{"s":40,"g":"SA","c":40,"p":0.333,"e":0.03},{"s":40,"g":"SA","c":80,"p":0.73,"e":0.03},
{"s":40,"g":"SC","c":0,"p":0.01,"e":0.01},{"s":40,"g":"SC","c":5,"p":0.018,"e":0.01},{"s":40,"g":"SC","c":10,"p":0.041,"e":0.02},{"s":40,"g":"SC","c":20,"p":0.10,"e":0.02},{"s":40,"g":"SC","c":40,"p":0.33,"e":0.03},{"s":40,"g":"SC","c":80,"p":0.70,"e":0.04},
{"s":80,"g":"TA","c":0,"p":0.01,"e":0.01},{"s":80,"g":"TA","c":5,"p":0.036,"e":0.01},{"s":80,"g":"TA","c":10,"p":0.058,"e":0.02},{"s":80,"g":"TA","c":20,"p":0.144,"e":0.03},{"s":80,"g":"TA","c":40,"p":0.256,"e":0.03},{"s":80,"g":"TA","c":80,"p":0.652,"e":0.03},
{"s":80,"g":"TC","c":0,"p":0.005,"e":0.01},{"s":80,"g":"TC","c":5,"p":0.027,"e":0.01},{"s":80,"g":"TC","c":10,"p":0.045,"e":0.01},{"s":80,"g":"TC","c":20,"p":0.117,"e":0.02},{"s":80,"g":"TC","c":40,"p":0.234,"e":0.03},{"s":80,"g":"TC","c":80,"p":0.604,"e":0.03},
{"s":80,"g":"SA","c":0,"p":0.005,"e":0.01},{"s":80,"g":"SA","c":5,"p":0.023,"e":0.01},{"s":80,"g":"SA","c":10,"p":0.027,"e":0.01},{"s":80,"g":"SA","c":20,"p":0.072,"e":0.02},{"s":80,"g":"SA","c":40,"p":0.108,"e":0.03},{"s":80,"g":"SA","c":80,"p":0.333,"e":0.03},
{"s":80,"g":"SC","c":0,"p":0.0,"e":0.01},{"s":80,"g":"SC","c":5,"p":0.02,"e":0.01},{"s":80,"g":"SC","c":10,"p":0.02,"e":0.01},{"s":80,"g":"SC","c":20,"p":0.054,"e":0.02},{"s":80,"g":"SC","c":40,"p":0.09,"e":0.03},{"s":80,"g":"SC","c":80,"p":0.315,"e":0.04},

{"s":0,"g":"TA","n":0,"c":0,"p":0.70},{"s":0,"g":"TA","n":0,"c":0.19,"p":0.70},
{"s":0,"g":"TA","n":1,"c":0.55,"p":0.70},{"s":0,"g":"TA","n":1,"c":1,"p":0.705},{"s":0,"g":"TA","n":1,"c":2,"p":0.76},{"s":0,"g":"TA","n":1,"c":3,"p":0.81},{"s":0,"g":"TA","n":1,"c":5,"p":0.87},{"s":0,"g":"TA","n":1,"c":7,"p":0.92},{"s":0,"g":"TA","n":1,"c":10,"p":0.95},{"s":0,"g":"TA","n":1,"c":15,"p":0.97},{"s":0,"g":"TA","n":1,"c":20,"p":0.98},{"s":0,"g":"TA","n":1,"c":30,"p":0.985},{"s":0,"g":"TA","n":1,"c":40,"p":0.988},{"s":0,"g":"TA","n":1,"c":60,"p":0.99},{"s":0,"g":"TA","n":1,"c":100,"p":0.99},
{"s":0,"g":"TC","n":0,"c":0,"p":0.38},{"s":0,"g":"TC","n":0,"c":0.19,"p":0.38},
{"s":0,"g":"TC","n":1,"c":0.55,"p":0.38},{"s":0,"g":"TC","n":1,"c":1,"p":0.385},{"s":0,"g":"TC","n":1,"c":2,"p":0.41},{"s":0,"g":"TC","n":1,"c":3,"p":0.46},{"s":0,"g":"TC","n":1,"c":5,"p":0.60},{"s":0,"g":"TC","n":1,"c":7,"p":0.71},{"s":0,"g":"TC","n":1,"c":10,"p":0.80},{"s":0,"g":"TC","n":1,"c":15,"p":0.86},{"s":0,"g":"TC","n":1,"c":20,"p":0.89},{"s":0,"g":"TC","n":1,"c":30,"p":0.91},{"s":0,"g":"TC","n":1,"c":40,"p":0.92},{"s":0,"g":"TC","n":1,"c":60,"p":0.93},{"s":0,"g":"TC","n":1,"c":100,"p":0.93},
{"s":0,"g":"SA","n":0,"c":0,"p":0.26},{"s":0,"g":"SA","n":0,"c":0.19,"p":0.26},
{"s":0,"g":"SA","n":1,"c":0.55,"p":0.26},{"s":0,"g":"SA","n":1,"c":1,"p":0.262},{"s":0,"g":"SA","n":1,"c":2,"p":0.27},{"s":0,"g":"SA","n":1,"c":3,"p":0.30},{"s":0,"g":"SA","n":1,"c":5,"p":0.41},{"s":0,"g":"SA","n":1,"c":7,"p":0.54},{"s":0,"g":"SA","n":1,"c":10,"p":0.69},{"s":0,"g":"SA","n":1,"c":15,"p":0.83},{"s":0,"g":"SA","n":1,"c":20,"p":0.90},{"s":0,"g":"SA","n":1,"c":30,"p":0.95},{"s":0,"g":"SA","n":1,"c":40,"p":0.97},{"s":0,"g":"SA","n":1,"c":60,"p":0.98},{"s":0,"g":"SA","n":1,"c":100,"p":0.98},
{"s":0,"g":"SC","n":0,"c":0,"p":0.12},{"s":0,"g":"SC","n":0,"c":0.19,"p":0.12},
{"s":0,"g":"SC","n":1,"c":0.55,"p":0.12},{"s":0,"g":"SC","n":1,"c":1,"p":0.121},{"s":0,"g":"SC","n":1,"c":2,"p":0.13},{"s":0,"g":"SC","n":1,"c":3,"p":0.16},{"s":0,"g":"SC","n":1,"c":5,"p":0.27},{"s":0,"g":"SC","n":1,"c":7,"p":0.41},{"s":0,"g":"SC","n":1,"c":10,"p":0.57},{"s":0,"g":"SC","n":1,"c":15,"p":0.73},{"s":0,"g":"SC","n":1,"c":20,"p":0.81},{"s":0,"g":"SC","n":1,"c":30,"p":0.86},{"s":0,"g":"SC","n":1,"c":40,"p":0.88},{"s":0,"g":"SC","n":1,"c":60,"p":0.895},{"s":0,"g":"SC","n":1,"c":100,"p":0.90},

{"s":5,"g":"TA","n":0,"c":0,"p":0.54},{"s":5,"g":"TA","n":0,"c":0.19,"p":0.54},
{"s":5,"g":"TA","n":1,"c":0.55,"p":0.54},{"s":5,"g":"TA","n":1,"c":1,"p":0.545},{"s":5,"g":"TA","n":1,"c":2,"p":0.58},{"s":5,"g":"TA","n":1,"c":3,"p":0.65},{"s":5,"g":"TA","n":1,"c":5,"p":0.79},{"s":5,"g":"TA","n":1,"c":7,"p":0.87},{"s":5,"g":"TA","n":1,"c":10,"p":0.92},{"s":5,"g":"TA","n":1,"c":15,"p":0.95},{"s":5,"g":"TA","n":1,"c":20,"p":0.96},{"s":5,"g":"TA","n":1,"c":30,"p":0.965},{"s":5,"g":"TA","n":1,"c":40,"p":0.97},{"s":5,"g":"TA","n":1,"c":60,"p":0.97},{"s":5,"g":"TA","n":1,"c":100,"p":0.97},
{"s":5,"g":"TC","n":0,"c":0,"p":0.26},{"s":5,"g":"TC","n":0,"c":0.19,"p":0.26},
{"s":5,"g":"TC","n":1,"c":0.55,"p":0.26},{"s":5,"g":"TC","n":1,"c":1,"p":0.265},{"s":5,"g":"TC","n":1,"c":2,"p":0.30},{"s":5,"g":"TC","n":1,"c":3,"p":0.37},{"s":5,"g":"TC","n":1,"c":5,"p":0.56},{"s":5,"g":"TC","n":1,"c":7,"p":0.69},{"s":5,"g":"TC","n":1,"c":10,"p":0.79},{"s":5,"g":"TC","n":1,"c":15,"p":0.85},{"s":5,"g":"TC","n":1,"c":20,"p":0.87},{"s":5,"g":"TC","n":1,"c":30,"p":0.89},{"s":5,"g":"TC","n":1,"c":40,"p":0.90},{"s":5,"g":"TC","n":1,"c":60,"p":0.905},{"s":5,"g":"TC","n":1,"c":100,"p":0.91},
{"s":5,"g":"SA","n":0,"c":0,"p":0.065},{"s":5,"g":"SA","n":0,"c":0.19,"p":0.065},
{"s":5,"g":"SA","n":1,"c":0.55,"p":0.065},{"s":5,"g":"SA","n":1,"c":1,"p":0.066},{"s":5,"g":"SA","n":1,"c":2,"p":0.07},{"s":5,"g":"SA","n":1,"c":3,"p":0.09},{"s":5,"g":"SA","n":1,"c":5,"p":0.16},{"s":5,"g":"SA","n":1,"c":7,"p":0.28},{"s":5,"g":"SA","n":1,"c":10,"p":0.46},{"s":5,"g":"SA","n":1,"c":15,"p":0.65},{"s":5,"g":"SA","n":1,"c":20,"p":0.77},{"s":5,"g":"SA","n":1,"c":30,"p":0.87},{"s":5,"g":"SA","n":1,"c":40,"p":0.91},{"s":5,"g":"SA","n":1,"c":60,"p":0.93},{"s":5,"g":"SA","n":1,"c":100,"p":0.94},
{"s":5,"g":"SC","n":0,"c":0,"p":0.03},{"s":5,"g":"SC","n":0,"c":0.19,"p":0.03},
{"s":5,"g":"SC","n":1,"c":0.55,"p":0.03},{"s":5,"g":"SC","n":1,"c":1,"p":0.031},{"s":5,"g":"SC","n":1,"c":2,"p":0.035},{"s":5,"g":"SC","n":1,"c":3,"p":0.05},{"s":5,"g":"SC","n":1,"c":5,"p":0.11},{"s":5,"g":"SC","n":1,"c":7,"p":0.22},{"s":5,"g":"SC","n":1,"c":10,"p":0.39},{"s":5,"g":"SC","n":1,"c":15,"p":0.58},{"s":5,"g":"SC","n":1,"c":20,"p":0.70},{"s":5,"g":"SC","n":1,"c":30,"p":0.81},{"s":5,"g":"SC","n":1,"c":40,"p":0.86},{"s":5,"g":"SC","n":1,"c":60,"p":0.90},{"s":5,"g":"SC","n":1,"c":100,"p":0.92},

{"s":10,"g":"TA","n":0,"c":0,"p":0.27},{"s":10,"g":"TA","n":0,"c":0.19,"p":0.27},
{"s":10,"g":"TA","n":1,"c":0.55,"p":0.27},{"s":10,"g":"TA","n":1,"c":1,"p":0.275},{"s":10,"g":"TA","n":1,"c":2,"p":0.31},{"s":10,"g":"TA","n":1,"c":3,"p":0.37},{"s":10,"g":"TA","n":1,"c":5,"p":0.50},{"s":10,"g":"TA","n":1,"c":7,"p":0.62},{"s":10,"g":"TA","n":1,"c":10,"p":0.74},{"s":10,"g":"TA","n":1,"c":15,"p":0.84},{"s":10,"g":"TA","n":1,"c":20,"p":0.89},{"s":10,"g":"TA","n":1,"c":30,"p":0.93},{"s":10,"g":"TA","n":1,"c":40,"p":0.945},{"s":10,"g":"TA","n":1,"c":60,"p":0.955},{"s":10,"g":"TA","n":1,"c":100,"p":0.96},
{"s":10,"g":"TC","n":0,"c":0,"p":0.14},{"s":10,"g":"TC","n":0,"c":0.19,"p":0.14},
{"s":10,"g":"TC","n":1,"c":0.55,"p":0.14},{"s":10,"g":"TC","n":1,"c":1,"p":0.145},{"s":10,"g":"TC","n":1,"c":2,"p":0.17},{"s":10,"g":"TC","n":1,"c":3,"p":0.23},{"s":10,"g":"TC","n":1,"c":5,"p":0.37},{"s":10,"g":"TC","n":1,"c":7,"p":0.51},{"s":10,"g":"TC","n":1,"c":10,"p":0.65},{"s":10,"g":"TC","n":1,"c":15,"p":0.77},{"s":10,"g":"TC","n":1,"c":20,"p":0.83},{"s":10,"g":"TC","n":1,"c":30,"p":0.87},{"s":10,"g":"TC","n":1,"c":40,"p":0.885},{"s":10,"g":"TC","n":1,"c":60,"p":0.895},{"s":10,"g":"TC","n":1,"c":100,"p":0.90},
{"s":10,"g":"SA","n":0,"c":0,"p":0.005},{"s":10,"g":"SA","n":0,"c":0.19,"p":0.005},
{"s":10,"g":"SA","n":1,"c":0.55,"p":0.005},{"s":10,"g":"SA","n":1,"c":1,"p":0.005},{"s":10,"g":"SA","n":1,"c":2,"p":0.01},{"s":10,"g":"SA","n":1,"c":3,"p":0.02},{"s":10,"g":"SA","n":1,"c":5,"p":0.05},{"s":10,"g":"SA","n":1,"c":7,"p":0.11},{"s":10,"g":"SA","n":1,"c":10,"p":0.22},{"s":10,"g":"SA","n":1,"c":15,"p":0.40},{"s":10,"g":"SA","n":1,"c":20,"p":0.55},{"s":10,"g":"SA","n":1,"c":30,"p":0.72},{"s":10,"g":"SA","n":1,"c":40,"p":0.81},{"s":10,"g":"SA","n":1,"c":60,"p":0.90},{"s":10,"g":"SA","n":1,"c":100,"p":0.94},
{"s":10,"g":"SC","n":0,"c":0,"p":0.003},{"s":10,"g":"SC","n":0,"c":0.19,"p":0.003},
{"s":10,"g":"SC","n":1,"c":0.55,"p":0.003},{"s":10,"g":"SC","n":1,"c":1,"p":0.004},{"s":10,"g":"SC","n":1,"c":2,"p":0.008},{"s":10,"g":"SC","n":1,"c":3,"p":0.016},{"s":10,"g":"SC","n":1,"c":5,"p":0.045},{"s":10,"g":"SC","n":1,"c":7,"p":0.10},{"s":10,"g":"SC","n":1,"c":10,"p":0.21},{"s":10,"g":"SC","n":1,"c":15,"p":0.38},{"s":10,"g":"SC","n":1,"c":20,"p":0.52},{"s":10,"g":"SC","n":1,"c":30,"p":0.69},{"s":10,"g":"SC","n":1,"c":40,"p":0.78},{"s":10,"g":"SC","n":1,"c":60,"p":0.86},{"s":10,"g":"SC","n":1,"c":100,"p":0.90},

{"s":20,"g":"TA","n":0,"c":0,"p":0.065},{"s":20,"g":"TA","n":0,"c":0.19,"p":0.065},
{"s":20,"g":"TA","n":1,"c":0.55,"p":0.065},{"s":20,"g":"TA","n":1,"c":1,"p":0.066},{"s":20,"g":"TA","n":1,"c":2,"p":0.075},{"s":20,"g":"TA","n":1,"c":3,"p":0.09},{"s":20,"g":"TA","n":1,"c":5,"p":0.15},{"s":20,"g":"TA","n":1,"c":7,"p":0.23},{"s":20,"g":"TA","n":1,"c":10,"p":0.36},{"s":20,"g":"TA","n":1,"c":15,"p":0.53},{"s":20,"g":"TA","n":1,"c":20,"p":0.65},{"s":20,"g":"TA","n":1,"c":30,"p":0.80},{"s":20,"g":"TA","n":1,"c":40,"p":0.87},{"s":20,"g":"TA","n":1,"c":60,"p":0.92},{"s":20,"g":"TA","n":1,"c":100,"p":0.94},
{"s":20,"g":"TC","n":0,"c":0,"p":0.02},{"s":20,"g":"TC","n":0,"c":0.19,"p":0.02},
{"s":20,"g":"TC","n":1,"c":0.55,"p":0.02},{"s":20,"g":"TC","n":1,"c":1,"p":0.021},{"s":20,"g":"TC","n":1,"c":2,"p":0.03},{"s":20,"g":"TC","n":1,"c":3,"p":0.05},{"s":20,"g":"TC","n":1,"c":5,"p":0.10},{"s":20,"g":"TC","n":1,"c":7,"p":0.18},{"s":20,"g":"TC","n":1,"c":10,"p":0.31},{"s":20,"g":"TC","n":1,"c":15,"p":0.48},{"s":20,"g":"TC","n":1,"c":20,"p":0.61},{"s":20,"g":"TC","n":1,"c":30,"p":0.76},{"s":20,"g":"TC","n":1,"c":40,"p":0.84},{"s":20,"g":"TC","n":1,"c":60,"p":0.89},{"s":20,"g":"TC","n":1,"c":100,"p":0.91},
{"s":20,"g":"SA","n":0,"c":0,"p":0.01},{"s":20,"g":"SA","n":0,"c":0.19,"p":0.01},
{"s":20,"g":"SA","n":1,"c":0.55,"p":0.01},{"s":20,"g":"SA","n":1,"c":1,"p":0.01},{"s":20,"g":"SA","n":1,"c":2,"p":0.012},{"s":20,"g":"SA","n":1,"c":3,"p":0.015},{"s":20,"g":"SA","n":1,"c":5,"p":0.03},{"s":20,"g":"SA","n":1,"c":7,"p":0.05},{"s":20,"g":"SA","n":1,"c":10,"p":0.09},{"s":20,"g":"SA","n":1,"c":15,"p":0.18},{"s":20,"g":"SA","n":1,"c":20,"p":0.28},{"s":20,"g":"SA","n":1,"c":30,"p":0.45},{"s":20,"g":"SA","n":1,"c":40,"p":0.57},{"s":20,"g":"SA","n":1,"c":60,"p":0.73},{"s":20,"g":"SA","n":1,"c":100,"p":0.86},
{"s":20,"g":"SC","n":0,"c":0,"p":0.008},{"s":20,"g":"SC","n":0,"c":0.19,"p":0.008},
{"s":20,"g":"SC","n":1,"c":0.55,"p":0.008},{"s":20,"g":"SC","n":1,"c":1,"p":0.008},{"s":20,"g":"SC","n":1,"c":2,"p":0.01},{"s":20,"g":"SC","n":1,"c":3,"p":0.013},{"s":20,"g":"SC","n":1,"c":5,"p":0.025},{"s":20,"g":"SC","n":1,"c":7,"p":0.045},{"s":20,"g":"SC","n":1,"c":10,"p":0.08},{"s":20,"g":"SC","n":1,"c":15,"p":0.16},{"s":20,"g":"SC","n":1,"c":20,"p":0.26},{"s":20,"g":"SC","n":1,"c":30,"p":0.42},{"s":20,"g":"SC","n":1,"c":40,"p":0.54},{"s":20,"g":"SC","n":1,"c":60,"p":0.69},{"s":20,"g":"SC","n":1,"c":100,"p":0.81},

{"s":40,"g":"TA","n":0,"c":0,"p":0.01},{"s":40,"g":"TA","n":0,"c":0.19,"p":0.01},
{"s":40,"g":"TA","n":1,"c":0.55,"p":0.01},{"s":40,"g":"TA","n":1,"c":1,"p":0.01},{"s":40,"g":"TA","n":1,"c":2,"p":0.012},{"s":40,"g":"TA","n":1,"c":3,"p":0.015},{"s":40,"g":"TA","n":1,"c":5,"p":0.03},{"s":40,"g":"TA","n":1,"c":7,"p":0.05},{"s":40,"g":"TA","n":1,"c":10,"p":0.11},{"s":40,"g":"TA","n":1,"c":15,"p":0.25},{"s":40,"g":"TA","n":1,"c":20,"p":0.40},{"s":40,"g":"TA","n":1,"c":30,"p":0.56},{"s":40,"g":"TA","n":1,"c":40,"p":0.66},{"s":40,"g":"TA","n":1,"c":60,"p":0.80},{"s":40,"g":"TA","n":1,"c":100,"p":0.91},
{"s":40,"g":"TC","n":0,"c":0,"p":0.008},{"s":40,"g":"TC","n":0,"c":0.19,"p":0.008},
{"s":40,"g":"TC","n":1,"c":0.55,"p":0.008},{"s":40,"g":"TC","n":1,"c":1,"p":0.008},{"s":40,"g":"TC","n":1,"c":2,"p":0.01},{"s":40,"g":"TC","n":1,"c":3,"p":0.013},{"s":40,"g":"TC","n":1,"c":5,"p":0.025},{"s":40,"g":"TC","n":1,"c":7,"p":0.045},{"s":40,"g":"TC","n":1,"c":10,"p":0.10},{"s":40,"g":"TC","n":1,"c":15,"p":0.22},{"s":40,"g":"TC","n":1,"c":20,"p":0.36},{"s":40,"g":"TC","n":1,"c":30,"p":0.52},{"s":40,"g":"TC","n":1,"c":40,"p":0.62},{"s":40,"g":"TC","n":1,"c":60,"p":0.76},{"s":40,"g":"TC","n":1,"c":100,"p":0.87},
{"s":40,"g":"SA","n":0,"c":0,"p":0.008},{"s":40,"g":"SA","n":0,"c":0.19,"p":0.008},
{"s":40,"g":"SA","n":1,"c":0.55,"p":0.008},{"s":40,"g":"SA","n":1,"c":1,"p":0.008},{"s":40,"g":"SA","n":1,"c":2,"p":0.008},{"s":40,"g":"SA","n":1,"c":3,"p":0.009},{"s":40,"g":"SA","n":1,"c":5,"p":0.012},{"s":40,"g":"SA","n":1,"c":7,"p":0.018},{"s":40,"g":"SA","n":1,"c":10,"p":0.035},{"s":40,"g":"SA","n":1,"c":15,"p":0.07},{"s":40,"g":"SA","n":1,"c":20,"p":0.11},{"s":40,"g":"SA","n":1,"c":30,"p":0.21},{"s":40,"g":"SA","n":1,"c":40,"p":0.31},{"s":40,"g":"SA","n":1,"c":60,"p":0.50},{"s":40,"g":"SA","n":1,"c":100,"p":0.74},
{"s":40,"g":"SC","n":0,"c":0,"p":0.006},{"s":40,"g":"SC","n":0,"c":0.19,"p":0.006},
{"s":40,"g":"SC","n":1,"c":0.55,"p":0.006},{"s":40,"g":"SC","n":1,"c":1,"p":0.006},{"s":40,"g":"SC","n":1,"c":2,"p":0.006},{"s":40,"g":"SC","n":1,"c":3,"p":0.007},{"s":40,"g":"SC","n":1,"c":5,"p":0.01},{"s":40,"g":"SC","n":1,"c":7,"p":0.016},{"s":40,"g":"SC","n":1,"c":10,"p":0.03},{"s":40,"g":"SC","n":1,"c":15,"p":0.065},{"s":40,"g":"SC","n":1,"c":20,"p":0.10},{"s":40,"g":"SC","n":1,"c":30,"p":0.20},{"s":40,"g":"SC","n":1,"c":40,"p":0.30},{"s":40,"g":"SC","n":1,"c":60,"p":0.48},{"s":40,"g":"SC","n":1,"c":100,"p":0.72},

{"s":80,"g":"TA","n":0,"c":0,"p":0.01},{"s":80,"g":"TA","n":0,"c":0.19,"p":0.01},
{"s":80,"g":"TA","n":1,"c":0.55,"p":0.01},{"s":80,"g":"TA","n":1,"c":1,"p":0.01},{"s":80,"g":"TA","n":1,"c":2,"p":0.01},{"s":80,"g":"TA","n":1,"c":3,"p":0.011},{"s":80,"g":"TA","n":1,"c":5,"p":0.013},{"s":80,"g":"TA","n":1,"c":7,"p":0.018},{"s":80,"g":"TA","n":1,"c":10,"p":0.03},{"s":80,"g":"TA","n":1,"c":15,"p":0.05},{"s":80,"g":"TA","n":1,"c":20,"p":0.08},{"s":80,"g":"TA","n":1,"c":30,"p":0.15},{"s":80,"g":"TA","n":1,"c":40,"p":0.24},{"s":80,"g":"TA","n":1,"c":60,"p":0.42},{"s":80,"g":"TA","n":1,"c":100,"p":0.72},
{"s":80,"g":"TC","n":0,"c":0,"p":0.008},{"s":80,"g":"TC","n":0,"c":0.19,"p":0.008},
{"s":80,"g":"TC","n":1,"c":0.55,"p":0.008},{"s":80,"g":"TC","n":1,"c":1,"p":0.008},{"s":80,"g":"TC","n":1,"c":2,"p":0.008},{"s":80,"g":"TC","n":1,"c":3,"p":0.009},{"s":80,"g":"TC","n":1,"c":5,"p":0.011},{"s":80,"g":"TC","n":1,"c":7,"p":0.015},{"s":80,"g":"TC","n":1,"c":10,"p":0.025},{"s":80,"g":"TC","n":1,"c":15,"p":0.045},{"s":80,"g":"TC","n":1,"c":20,"p":0.07},{"s":80,"g":"TC","n":1,"c":30,"p":0.13},{"s":80,"g":"TC","n":1,"c":40,"p":0.21},{"s":80,"g":"TC","n":1,"c":60,"p":0.39},{"s":80,"g":"TC","n":1,"c":100,"p":0.68},
{"s":80,"g":"SA","n":0,"c":0,"p":0.005},{"s":80,"g":"SA","n":0,"c":0.19,"p":0.005},
{"s":80,"g":"SA","n":1,"c":0.55,"p":0.005},{"s":80,"g":"SA","n":1,"c":1,"p":0.005},{"s":80,"g":"SA","n":1,"c":2,"p":0.005},{"s":80,"g":"SA","n":1,"c":3,"p":0.005},{"s":80,"g":"SA","n":1,"c":5,"p":0.006},{"s":80,"g":"SA","n":1,"c":7,"p":0.008},{"s":80,"g":"SA","n":1,"c":10,"p":0.012},{"s":80,"g":"SA","n":1,"c":15,"p":0.02},{"s":80,"g":"SA","n":1,"c":20,"p":0.03},{"s":80,"g":"SA","n":1,"c":30,"p":0.05},{"s":80,"g":"SA","n":1,"c":40,"p":0.08},{"s":80,"g":"SA","n":1,"c":60,"p":0.16},{"s":80,"g":"SA","n":1,"c":100,"p":0.38},
{"s":80,"g":"SC","n":0,"c":0,"p":0.004},{"s":80,"g":"SC","n":0,"c":0.19,"p":0.004},
{"s":80,"g":"SC","n":1,"c":0.55,"p":0.004},{"s":80,"g":"SC","n":1,"c":1,"p":0.004},{"s":80,"g":"SC","n":1,"c":2,"p":0.004},{"s":80,"g":"SC","n":1,"c":3,"p":0.004},{"s":80,"g":"SC","n":1,"c":5,"p":0.005},{"s":80,"g":"SC","n":1,"c":7,"p":0.007},{"s":80,"g":"SC","n":1,"c":10,"p":0.01},{"s":80,"g":"SC","n":1,"c":15,"p":0.018},{"s":80,"g":"SC","n":1,"c":20,"p":0.027},{"s":80,"g":"SC","n":1,"c":30,"p":0.045},{"s":80,"g":"SC","n":1,"c":40,"p":0.075},{"s":80,"g":"SC","n":1,"c":60,"p":0.15},{"s":80,"g":"SC","n":1,"c":100,"p":0.39}
],
"T":[
{"m":"B","s":0,"g":"TA","v":0.70,"e":0.02},{"m":"B","s":5,"g":"TA","v":0.537,"e":0.05},{"m":"B","s":10,"g":"TA","v":0.267,"e":0.07},{"m":"B","s":20,"g":"TA","v":0.072,"e":0.015},{"m":"B","s":40,"g":"TA","v":0.01,"e":0.005},{"m":"B","s":80,"g":"TA","v":0,"e":0},
{"m":"B","s":0,"g":"TC","v":0.385,"e":0.02},{"m":"B","s":5,"g":"TC","v":0.251,"e":0.045},{"m":"B","s":10,"g":"TC","v":0.139,"e":0.035},{"m":"B","s":20,"g":"TC","v":0.019,"e":0.005},{"m":"B","s":40,"g":"TC","v":0.01,"e":0},{"m":"B","s":80,"g":"TC","v":0,"e":0},
{"m":"B","s":0,"g":"SA","v":0.244,"e":0.03},{"m":"B","s":5,"g":"SA","v":0.086,"e":0.02},{"m":"B","s":10,"g":"SA","v":0.019,"e":0.01},{"m":"B","s":20,"g":"SA","v":0.01,"e":0.005},{"m":"B","s":40,"g":"SA","v":0.01,"e":0.005},{"m":"B","s":80,"g":"SA","v":0,"e":0},
{"m":"B","s":0,"g":"SC","v":0.124,"e":0.02},{"m":"B","s":5,"g":"SC","v":0.048,"e":0.015},{"m":"B","s":10,"g":"SC","v":0.006,"e":0.005},{"m":"B","s":20,"g":"SC","v":0.004,"e":0},{"m":"B","s":40,"g":"SC","v":0.01,"e":0},{"m":"B","s":80,"g":"SC","v":0,"e":0},
{"m":"Gr","s":0,"g":"TA","v":0.284,"e":0.02},{"m":"Gr","s":5,"g":"TA","v":0.432,"e":0.04},{"m":"Gr","s":10,"g":"TA","v":0.705,"e":0.06},{"m":"Gr","s":20,"g":"TA","v":0.863,"e":0.03},{"m":"Gr","s":40,"g":"TA","v":0.888,"e":0.03},
{"m":"Gr","s":0,"g":"TC","v":0.573,"e":0.03},{"m":"Gr","s":5,"g":"TC","v":0.657,"e":0.04},{"m":"Gr","s":10,"g":"TC","v":0.762,"e":0.05},{"m":"Gr","s":20,"g":"TC","v":0.867,"e":0.03},{"m":"Gr","s":40,"g":"TC","v":0.859,"e":0.03},
{"m":"Gr","s":0,"g":"SA","v":0.743,"e":0.03},{"m":"Gr","s":5,"g":"SA","v":0.895,"e":0.015},{"m":"Gr","s":10,"g":"SA","v":0.947,"e":0.02},{"m":"Gr","s":20,"g":"SA","v":0.888,"e":0.03},{"m":"Gr","s":40,"g":"SA","v":0.922,"e":0.03},
{"m":"Gr","s":0,"g":"SC","v":0.806,"e":0.02},{"m":"Gr","s":5,"g":"SC","v":0.878,"e":0.02},{"m":"Gr","s":10,"g":"SC","v":0.905,"e":0.02},{"m":"Gr","s":20,"g":"SC","v":0.867,"e":0.03},{"m":"Gr","s":40,"g":"SC","v":0.916,"e":0.05},
{"m":"Gc","s":0,"g":"TA","v":6.1,"e":1},{"m":"Gc","s":5,"g":"TA","v":4.2,"e":1},{"m":"Gc","s":10,"g":"TA","v":7.6,"e":0.5},{"m":"Gc","s":20,"g":"TA","v":12.4,"e":1},{"m":"Gc","s":40,"g":"TA","v":21,"e":2},
{"m":"Gc","s":0,"g":"TC","v":8,"e":1},{"m":"Gc","s":5,"g":"TC","v":6.3,"e":1},{"m":"Gc","s":10,"g":"TC","v":7.6,"e":0.5},{"m":"Gc","s":20,"g":"TC","v":13.3,"e":1},{"m":"Gc","s":40,"g":"TC","v":22.9,"e":2},
{"m":"Gc","s":0,"g":"SA","v":8,"e":1},{"m":"Gc","s":5,"g":"SA","v":12,"e":1},{"m":"Gc","s":10,"g":"SA","v":16.2,"e":1},{"m":"Gc","s":20,"g":"SA","v":27.6,"e":3},{"m":"Gc","s":40,"g":"SA","v":51.8,"e":3},
{"m":"Gc","s":0,"g":"SC","v":8.6,"e":1},{"m":"Gc","s":5,"g":"SC","v":13,"e":1},{"m":"Gc","s":10,"g":"SC","v":17.5,"e":1},{"m":"Gc","s":20,"g":"SC","v":31.4,"e":3},{"m":"Gc","s":40,"g":"SC","v":54.3,"e":4},
{"m":"PSE","s":0,"g":"TA","v":0,"e":0.5},{"m":"PSE","s":5,"g":"TA","v":0.4,"e":0.5},{"m":"PSE","s":10,"g":"TA","v":4.4,"e":0.5},{"m":"PSE","s":20,"g":"TA","v":12.4,"e":1},{"m":"PSE","s":40,"g":"TA","v":24.4,"e":2},
{"m":"PSE","s":0,"g":"TC","v":2.5,"e":0.5},{"m":"PSE","s":5,"g":"TC","v":3.4,"e":0.5},{"m":"PSE","s":10,"g":"TC","v":6.7,"e":1},{"m":"PSE","s":20,"g":"TC","v":14.9,"e":1},{"m":"PSE","s":40,"g":"TC","v":32.8,"e":5},
{"m":"PSE","s":0,"g":"SA","v":6.3,"e":1},{"m":"PSE","s":5,"g":"SA","v":11,"e":1},{"m":"PSE","s":10,"g":"SA","v":17.5,"e":1},{"m":"PSE","s":20,"g":"SA","v":32.4,"e":2.5},{"m":"PSE","s":40,"g":"SA","v":56.8,"e":3.5},
{"m":"PSE","s":0,"g":"SC","v":8.6,"e":1},{"m":"PSE","s":5,"g":"SC","v":13.7,"e":1},{"m":"PSE","s":10,"g":"SC","v":19.4,"e":1.5},{"m":"PSE","s":20,"g":"SC","v":41.9,"e":4},{"m":"PSE","s":40,"g":"SC","v":61.3,"e":5}
],
"D":[
{"m":"B","s":0,"g":"DA","v":0.456,"e":0.02},{"m":"B","s":5,"g":"DA","v":0.456,"e":0.05},{"m":"B","s":10,"g":"DA","v":0.25,"e":0.07},{"m":"B","s":20,"g":"DA","v":0.067,"e":0.01},{"m":"B","s":40,"g":"DA","v":-0.01,"e":0.005},{"m":"B","s":80,"g":"DA","v":0,"e":0},
{"m":"B","s":0,"g":"DC","v":0.27,"e":0.03},{"m":"B","s":5,"g":"DC","v":0.21,"e":0.04},{"m":"B","s":10,"g":"DC","v":0.137,"e":0.02},{"m":"B","s":20,"g":"DC","v":0.019,"e":0.005},{"m":"B","s":40,"g":"DC","v":-0.01,"e":0.005},{"m":"B","s":80,"g":"DC","v":0,"e":0},
{"m":"Gr","s":0,"g":"DA","v":-0.45,"e":0.03},{"m":"Gr","s":5,"g":"DA","v":-0.45,"e":0.04},{"m":"Gr","s":10,"g":"DA","v":-0.25,"e":0.05},{"m":"Gr","s":20,"g":"DA","v":-0.02,"e":0.02},{"m":"Gr","s":40,"g":"DA","v":-0.04,"e":0.02},
{"m":"Gr","s":0,"g":"DC","v":-0.22,"e":0.03},{"m":"Gr","s":5,"g":"DC","v":-0.21,"e":0.05},{"m":"Gr","s":10,"g":"DC","v":-0.12,"e":0.04},{"m":"Gr","s":20,"g":"DC","v":0.02,"e":0.02},{"m":"Gr","s":40,"g":"DC","v":-0.04,"e":0.03},
{"m":"Gc","s":0,"g":"DA","v":1,"e":1},{"m":"Gc","s":5,"g":"DA","v":-6.6,"e":1},{"m":"Gc","s":10,"g":"DA","v":-8.9,"e":1},{"m":"Gc","s":20,"g":"DA","v":-14.4,"e":3},{"m":"Gc","s":40,"g":"DA","v":-30,"e":4},
{"m":"Gc","s":0,"g":"DC","v":1,"e":1},{"m":"Gc","s":5,"g":"DC","v":-5.6,"e":1},{"m":"Gc","s":10,"g":"DC","v":-9.5,"e":1},{"m":"Gc","s":20,"g":"DC","v":-18.7,"e":3},{"m":"Gc","s":40,"g":"DC","v":-31.8,"e":3},
{"m":"PSE","s":0,"g":"DA","v":-4.6,"e":1},{"m":"PSE","s":5,"g":"DA","v":-8.9,"e":1},{"m":"PSE","s":10,"g":"DA","v":-11.5,"e":1},{"m":"PSE","s":20,"g":"DA","v":-18.7,"e":4},{"m":"PSE","s":40,"g":"DA","v":-31.8,"e":4},
{"m":"PSE","s":0,"g":"DC","v":-4.6,"e":1},{"m":"PSE","s":5,"g":"DC","v":-8.9,"e":1},{"m":"PSE","s":10,"g":"DC","v":-12.1,"e":1},{"m":"PSE","s":20,"g":"DC","v":-26.2,"e":3},{"m":"PSE","s":40,"g":"DC","v":-28.5,"e":9}
],
"S":[
{"m":"B","s":0,"g":"DA","t":"***","v":0.926},{"m":"B","s":0,"g":"DC","t":"***","v":0.83},
{"m":"B","s":5,"g":"DA","t":"***","v":0.85},{"m":"B","s":5,"g":"DC","t":"**","v":0.76},
{"m":"B","s":10,"g":"DA","t":"*","v":0.72},{"m":"B","s":10,"g":"DC","t":"**","v":0.60},
{"m":"B","s":20,"g":"DA","t":"*","v":0.35},{"m":"B","s":20,"g":"DC","t":"**","v":0.24},
{"m":"B","s":40,"g":"DA","t":"ns","v":0.32},{"m":"B","s":40,"g":"DC","t":"ns","v":0.21},
{"m":"B","s":80,"g":"DA","t":"ns","v":0.27},{"m":"B","s":80,"g":"DC","t":"ns","v":0.15},
{"m":"Gr","s":0,"g":"DA","t":"***","v":0.62},{"m":"Gr","s":0,"g":"DC","t":"***","v":0.42},
{"m":"Gr","s":5,"g":"DA","t":"***","v":0.54},{"m":"Gr","s":5,"g":"DC","t":"**","v":0.38},
{"m":"Gr","s":10,"g":"DA","t":"*","v":0.58},{"m":"Gr","s":10,"g":"DC","t":"*","v":0.38},
{"m":"Gr","s":20,"g":"DA","t":"ns","v":0.70},{"m":"Gr","s":20,"g":"DC","t":"ns","v":0.42},
{"m":"Gr","s":40,"g":"DA","t":"ns","v":0.70},{"m":"Gr","s":40,"g":"DC","t":"ns","v":0.42},
{"m":"Gc","s":0,"g":"DA","t":"ns","v":45},{"m":"Gc","s":0,"g":"DC","t":"ns","v":33.8},
{"m":"Gc","s":5,"g":"DA","t":"***","v":-16.4},{"m":"Gc","s":5,"g":"DC","t":"***","v":-25},
{"m":"Gc","s":10,"g":"DA","t":"***","v":-31.8},{"m":"Gc","s":10,"g":"DC","t":"***","v":-40},
{"m":"Gc","s":20,"g":"DA","t":"**","v":-41.6},{"m":"Gc","s":20,"g":"DC","t":"**","v":-49.8},
{"m":"Gc","s":40,"g":"DA","t":"***","v":-47.2},{"m":"Gc","s":40,"g":"DC","t":"***","v":-55.7},
{"m":"PSE","s":0,"g":"DA","t":"**","v":-13.8},{"m":"PSE","s":0,"g":"DC","t":"**","v":-22},
{"m":"PSE","s":5,"g":"DA","t":"***","v":-29.5},{"m":"PSE","s":5,"g":"DC","t":"***","v":-37.7},
{"m":"PSE","s":10,"g":"DA","t":"***","v":-29.5},{"m":"PSE","s":10,"g":"DC","t":"***","v":-37.7},
{"m":"PSE","s":20,"g":"DA","t":"***","v":-44.3},{"m":"PSE","s":20,"g":"DC","t":"***","v":-52.5},
{"m":"PSE","s":40,"g":"DA","t":"***","v":-46.6},{"m":"PSE","s":40,"g":"DC","t":"*","v":-54.8}
]
}
}
